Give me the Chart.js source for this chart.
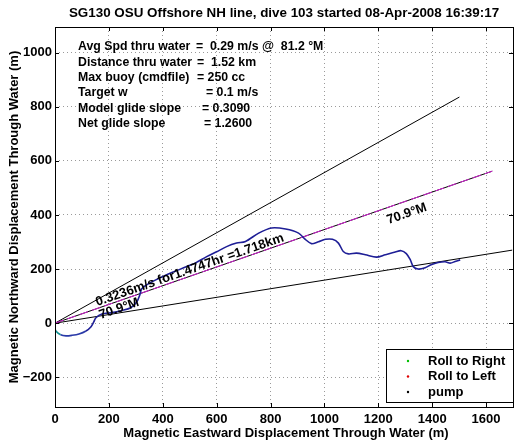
<!DOCTYPE html>
<html>
<head>
<meta charset="utf-8">
<script src="https://cdn.jsdelivr.net/npm/chart.js@4"></script>
<style>
  html, body { margin: 0; padding: 0; background: #fff; }
  #wrap { width: 522px; height: 442px; }
</style>
</head>
<body>
<div id="wrap"><canvas id="chart" width="522" height="442"></canvas></div>
<script>
const chartTitle = "SG130 OSU Offshore NH line, dive 103 started 08-Apr-2008 16:39:17";
const xTitle = "Magnetic Eastward Displacement Through Water (m)";
const yTitle = "Magnetic Northward Displacement Through Water (m)";

const xTicks = [0, 200, 400, 600, 800, 1000, 1200, 1400, 1600];
const yTicks = [-200, 0, 200, 400, 600, 800, 1000];

// glider track through water (m east, m north)
const trackX = [0, -2, 4, 21, 41, 63, 89, 115, 133, 144, 152, 174, 211, 248, 281, 304, 315, 322, 348, 374,
  415, 459, 496, 522, 563, 600, 637, 674, 707, 756, 804, 856, 904, 930, 952, 978, 1004, 1030, 1052, 1070,
  1089, 1119, 1152, 1193, 1226, 1263, 1285, 1304, 1319, 1330, 1348, 1374, 1396, 1422, 1448, 1467, 1485, 1504];
const trackY = [0, -14, -30, -43, -47, -45, -40, -29, -14, 5, 20, 34, 39, 47, 57, 79, 105, 127, 146, 160,
  179, 197, 212, 223, 246, 264, 283, 296, 302, 333, 352, 348, 333, 309, 294, 301, 310, 310, 296, 265,
  256, 259, 253, 244, 253, 263, 268, 257, 234, 209, 200, 205, 216, 224, 227, 222, 228, 234];

// heading lines from the dive start
const headingX = [0, 1623];
const headingY = [0, 562];
const upperX = [0, 1501];
const upperY = [0, 836];
const lowerX = [0, 1697];
const lowerY = [0, 270];

const rollRight = [];
const rollLeft = [];
const pump = [];
const legendLabels = ["Roll to Right", "Roll to Left", "pump"];

const infoLabels = ["Avg Spd thru water", "Distance thru water", "Max buoy (cmdfile)", "Target w", "Model glide slope", "Net glide slope"];
const infoValues = ["=  0.29 m/s @  81.2 \u00B0M", "=  1.52 km", "= 250 cc", "= 0.1 m/s", "= 0.3090", "= 1.2600"];
const infoEqX = [196, 197, 197, 206, 202, 204];

const trackText = "0.3236m/s for1.4747hr =1.718km";
const headingText = "70.9\u00B0M";

const pts = (xs, ys) => xs.map((x, i) => ({ x: x, y: ys[i] }));
const FONT = "'Liberation Sans', Arial, sans-serif";
const tickLabel = v => (v < 0 ? "\u2212" + Math.abs(v) : String(v));

const boxPlugin = {
  id: "matlabBox",
  afterDraw(chart) {
    const c = chart.ctx, a = chart.chartArea;
    const sx = chart.scales.x, sy = chart.scales.y;
    c.save();
    c.strokeStyle = "#000";
    c.lineWidth = 1;
    c.strokeRect(a.left + 0.5, a.top + 0.5, a.right - a.left, a.bottom - a.top);
    c.beginPath();
    xTicks.forEach(v => {
      const p = Math.round(sx.getPixelForValue(v)) + 0.5;
      c.moveTo(p, a.bottom); c.lineTo(p, a.bottom - 4);
      c.moveTo(p, a.top); c.lineTo(p, a.top + 4);
    });
    yTicks.forEach(v => {
      const p = Math.round(sy.getPixelForValue(v)) + 0.5;
      c.moveTo(a.left, p); c.lineTo(a.left + 4, p);
      c.moveTo(a.right, p); c.lineTo(a.right - 4, p);
    });
    c.stroke();

    c.fillStyle = "#000";
    c.textAlign = "center";
    c.textBaseline = "middle";
    c.font = "bold 13.4px " + FONT;
    c.fillText(chartTitle, (a.left + a.right) / 2, 13);
    c.font = "bold 13px " + FONT;
    c.fillText(xTitle, (a.left + a.right) / 2 + 2, 433);
    c.save();
    c.translate(14, (a.top + a.bottom) / 2);
    c.rotate(-Math.PI / 2);
    c.fillText(yTitle, 0, 0);
    c.restore();

    // info block
    c.textAlign = "left";
    c.font = "bold 12.3px " + FONT;
    infoLabels.forEach((t, i) => {
      const y = 47 + i * 15.3;
      c.fillText(t, 78, y);
      c.fillText(infoValues[i], infoEqX[i], y);
    });

    // rotated labels along heading
    const x0 = sx.getPixelForValue(headingX[0]), y0 = sy.getPixelForValue(headingY[0]);
    const x1 = sx.getPixelForValue(headingX[1]), y1 = sy.getPixelForValue(headingY[1]);
    const ang = Math.atan2(y1 - y0, x1 - x0);
    const label = (txt, vx, vy) => {
      c.save();
      c.translate(sx.getPixelForValue(vx), sy.getPixelForValue(vy));
      c.rotate(ang);
      c.textAlign = "center";
      c.fillText(txt, 0, 0);
      c.restore();
    };
    c.font = "bold 13px " + FONT;
    label(trackText, 500, 196);
    label(headingText, 238, 53);
    label(headingText, 1306, 404);

    // legend
    const lx = 386, ly = 349, lw = 127, lh = 53;
    c.fillStyle = "#fff";
    c.fillRect(lx, ly, lw, lh);
    c.strokeStyle = "#000";
    c.strokeRect(lx + 0.5, ly + 0.5, lw, lh);
    c.font = "bold 13px " + FONT;
    const legendSets = chart.data.datasets.filter(d => d.inLegend);
    legendSets.forEach((d, i) => {
      const y = 361 + i * 15.5;
      c.fillStyle = d.backgroundColor;
      c.beginPath();
      c.arc(408, y, 1.2, 0, Math.PI * 2);
      c.fill();
      c.fillStyle = "#000";
      c.fillText(d.label, 428, y);
    });
    c.restore();
  }
};

const navy = "#1e1e96";
new Chart(document.getElementById("chart"), {
  type: "scatter",
  data: {
    datasets: [
      { label: legendLabels[0], data: rollRight, backgroundColor: "#00c000", pointRadius: 1, inLegend: true, order: 0 },
      { label: legendLabels[1], data: rollLeft, backgroundColor: "#e00000", pointRadius: 1, inLegend: true, order: 0 },
      { label: legendLabels[2], data: pump, backgroundColor: "#000000", pointRadius: 1, inLegend: true, order: 0 },
      {
        label: "track", data: pts(trackX, trackY), showLine: true, pointRadius: 0, tension: 0.3,
        borderColor: navy, borderWidth: 1.6, order: 1,
        segment: { borderColor: ctx => ctx.p0DataIndex < 3 ? "#109090" : (ctx.p0DataIndex < 7 ? "#2a3aa8" : undefined) }
      },
      { label: "heading", data: pts(headingX, headingY), showLine: true, pointRadius: 0, borderColor: "#d21ed2", borderWidth: 1, borderDash: [9, 4], order: 2 },
      { label: "heading-k", data: pts(headingX, headingY), showLine: true, pointRadius: 0, borderColor: "#000", borderWidth: 1, order: 3 },
      { label: "upper", data: pts(upperX, upperY), showLine: true, pointRadius: 0, borderColor: "#000", borderWidth: 1, order: 3 },
      { label: "lower", data: pts(lowerX, lowerY), showLine: true, pointRadius: 0, borderColor: "#000", borderWidth: 1, order: 3 }
    ]
  },
  options: {
    responsive: false,
    animation: false,
    layout: { padding: { top: 27, right: 9, left: 0, bottom: 0 } },
    plugins: { legend: { display: false }, title: { display: false }, tooltip: { enabled: false } },
    scales: {
      x: {
        type: "linear", min: 0, max: 1700,
        afterBuildTicks: s => { s.ticks = xTicks.map(v => ({ value: v })); },
        afterFit: s => { s.height = 35; },
        grid: { color: "#9a9a9a", drawTicks: false },
        border: { display: false, dash: [1, 3] },
        ticks: { color: "#000", padding: 5, callback: tickLabel, font: { family: FONT, size: 13, weight: "bold" } }
      },
      y: {
        type: "linear", min: -310, max: 1095,
        afterBuildTicks: s => { s.ticks = yTicks.map(v => ({ value: v })); },
        afterFit: s => { s.width = 55; },
        grid: { color: "#9a9a9a", drawTicks: false },
        border: { display: false, dash: [1, 3] },
        ticks: { color: "#000", padding: 3, callback: tickLabel, font: { family: FONT, size: 13, weight: "bold" } }
      }
    }
  },
  plugins: [boxPlugin]
});
</script>
</body>
</html>
